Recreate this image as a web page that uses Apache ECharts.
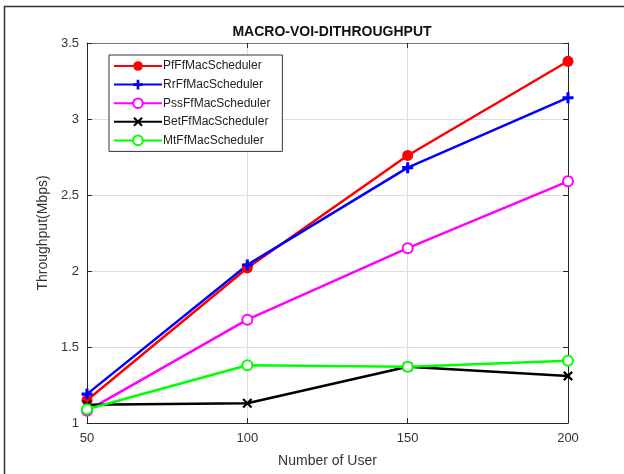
<!DOCTYPE html>
<html><head><meta charset="utf-8">
<script src="https://cdn.jsdelivr.net/npm/echarts@6/dist/echarts.min.js"></script>
<style>html,body{margin:0;padding:0;background:#fff}#c{width:624px;height:474px}</style>
</head><body><div id="c"></div>
<script>
const users = [50, 100, 150, 200];
const pf  = [1.15, 2.02, 2.76, 3.38];
const rr  = [1.19, 2.04, 2.68, 3.14];
const pss = [1.08, 1.68, 2.15, 2.59];
const bet = [1.12, 1.13, 1.37, 1.31];
const mt  = [1.09, 1.38, 1.37, 1.41];
const seriesNames = ['PfFfMacScheduler','RrFfMacScheduler','PssFfMacScheduler','BetFfMacScheduler','MtFfMacScheduler'];
const yTicks = [1, 1.5, 2, 2.5, 3, 3.5];

const FONT = '"Liberation Sans", Arial, Helvetica, sans-serif';
const plus = 'path://M3.6,0H6.4V3.6H10V6.4H6.4V10H3.6V6.4H0V3.6H3.6Z';
const cross = 'path://M1.6,0L5,3.4L8.4,0L10,1.6L6.6,5L10,8.4L8.4,10L5,6.6L1.6,10L0,8.4L3.4,5L0,1.6Z';

function pairs(arr){ return users.map((u,i)=>[u, arr[i]]); }
function mk(name, data, color, symbol, size, bw){
  return {
    name, type:'line', data: pairs(data), symbol, symbolSize:size,
    lineStyle:{color, width:2.5},
    itemStyle:{color: color, borderColor: color, borderWidth: bw},
    emphasis:{disabled:true}, animation:false, z: 3
  };
}
const chart = echarts.init(document.getElementById('c'), null, {renderer:'canvas'});
chart.setOption({
  backgroundColor:'#fff',
  animation:false,
  title:{text:'MACRO-VOI-DITHROUGHPUT', left:327, top:20, textAlign:'center',
    textStyle:{fontFamily:FONT, fontSize:14, fontWeight:'bold', color:'#111'}},
  graphic:[{type:'rect', shape:{x:4.5, y:6.5, width:700, height:600},
    style:{fill:'none', stroke:'#333', lineWidth:1.5}, silent:true}],
  grid:{left:87, right:56, top:43, bottom:51, containLabel:false},
  legend:{
    orient:'vertical', left:109, top:55, width:173,
    padding:[5,12,5,4], itemGap:6.6, itemWidth:48, itemHeight:12,
    borderColor:'#333', borderWidth:1, backgroundColor:'#fff',
    textStyle:{fontFamily:FONT, fontSize:12, color:'#222', padding:[0,0,0,-4]},
    data: seriesNames
  },
  xAxis:[{
    type:'value', min:50, max:200, interval:50,
    name:'Number of User', nameLocation:'middle', nameGap:31,
    nameTextStyle:{fontFamily:FONT, fontSize:14, color:'#333'},
    axisLine:{show:true, onZero:false, lineStyle:{color:'#262626', width:1}},
    axisTick:{show:true, inside:true, length:5, lineStyle:{color:'#262626'}},
    axisLabel:{fontFamily:FONT, fontSize:13, color:'#333', margin:9},
    splitLine:{show:true, lineStyle:{color:'#dedede', width:1}}
  },{
    type:'value', min:50, max:200, interval:50, position:'top',
    axisLine:{show:true, onZero:false, lineStyle:{color:'#777', width:1}},
    axisTick:{show:true, inside:true, length:5, lineStyle:{color:'#262626'}},
    axisLabel:{show:false}, splitLine:{show:false}
  }],
  yAxis:[{
    type:'value', min:1, max:3.5, interval:0.5,
    name:'Throughput(Mbps)', nameLocation:'middle', nameGap:36, nameRotate:90,
    nameTextStyle:{fontFamily:FONT, fontSize:14, color:'#333'},
    axisLine:{show:true, onZero:false, lineStyle:{color:'#262626', width:1}},
    axisTick:{show:true, inside:true, length:5, lineStyle:{color:'#262626'}},
    axisLabel:{fontFamily:FONT, fontSize:13, color:'#333', margin:8,
      formatter:v=>{ const t = yTicks.find(x=>Math.abs(x-v)<1e-9); return t===undefined?'':String(t);} },
    splitLine:{show:true, lineStyle:{color:'#dedede', width:1}}
  },{
    type:'value', min:1, max:3.5, interval:0.5, position:'right',
    axisLine:{show:true, onZero:false, lineStyle:{color:'#262626', width:1}},
    axisTick:{show:true, inside:true, length:5, lineStyle:{color:'#262626'}},
    axisLabel:{show:false}, splitLine:{show:false}
  }],
  series:[
    mk(seriesNames[0], pf, '#ff0000', 'circle', 11, 0),
    mk(seriesNames[1], rr, '#0000ff', plus, 11, 0),
    mk(seriesNames[2], pss, '#ff00ff', 'emptyCircle', 10, 2),
    mk(seriesNames[3], bet, '#000000', cross, 10, 0),
    mk(seriesNames[4], mt, '#00ff00', 'emptyCircle', 10, 2.5)
  ]
});
</script></body></html>
